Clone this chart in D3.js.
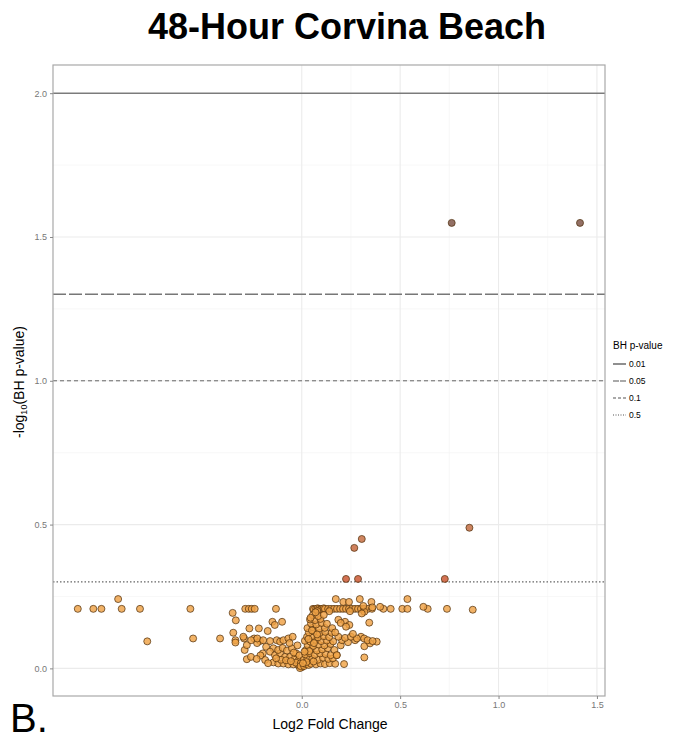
<!DOCTYPE html>
<html>
<head>
<meta charset="utf-8">
<script src="https://cdn.jsdelivr.net/npm/d3@7"></script>
<style>
  body { margin: 0; background: #fff; }
  svg { font-family: "Liberation Sans", Arial, sans-serif; }
</style>
</head>
<body>
<script>
// volcano points: [log2 fold change, -log10(BH p-value)]
const upperRow = [
  [-1.138,0.207],[-1.059,0.207],[-1.018,0.207],[-0.933,0.241],[-0.915,0.207],[-0.822,0.207],[-0.566,0.207],
  [-0.287,0.207],[-0.269,0.207],[-0.254,0.207],[-0.239,0.207],[-0.131,0.207],
  [0.057,0.207],[0.062,0.205],[0.073,0.207],[0.081,0.209],[0.088,0.207],[0.096,0.205],[0.103,0.207],
  [0.112,0.209],[0.118,0.207],[0.134,0.207],[0.149,0.207],[0.164,0.207],[0.179,0.207],[0.195,0.207],
  [0.210,0.207],[0.225,0.207],[0.240,0.207],[0.256,0.207],[0.271,0.207],[0.286,0.207],[0.301,0.207],
  [0.317,0.207],[0.337,0.207],[0.357,0.207],[0.415,0.207],[0.452,0.207],[0.511,0.207],[0.537,0.207],
  [0.640,0.207],[0.738,0.207],[0.869,0.204],
  [0.079,0.199],[0.140,0.199],[0.245,0.199],[0.318,0.197],[0.305,0.191],
  [0.173,0.241],[0.211,0.231],[0.240,0.231],[0.295,0.241],[0.354,0.231],[0.398,0.214],[0.537,0.241],
  [0.618,0.214],[0.313,0.217],[0.359,0.212]
];
const leftBranch = [
  [-0.785,0.094],[-0.552,0.104],[-0.415,0.104],
  [-0.351,0.193],[-0.335,0.167],[-0.348,0.124],[-0.337,0.098],[-0.337,0.090],[-0.293,0.104],[-0.297,0.110],
  [-0.290,0.064],[-0.279,0.032],[-0.258,0.040],[-0.266,0.139],[-0.218,0.139],[-0.173,0.130],[-0.149,0.162],
  [-0.137,0.151],[-0.100,0.162],[-0.279,0.081],[-0.242,0.104],[-0.212,0.095],[-0.198,0.052],[-0.181,0.075],
  [-0.161,0.095],[-0.144,0.070],[-0.127,0.098],[-0.110,0.093],[-0.093,0.098],[-0.068,0.104],[-0.046,0.110],
  [-0.161,0.058],[-0.136,0.046],[-0.110,0.052],[-0.085,0.040],[-0.059,0.040],[-0.034,0.035],[-0.144,0.021],
  [-0.119,0.017],[-0.093,0.017],[-0.068,0.014],[-0.043,0.014],[-0.017,0.011],[0.000,0.004],[-0.009,0.001],
  [-0.186,0.029],[-0.171,0.018],[-0.227,0.088],[-0.257,0.098],[-0.226,0.104],[-0.196,0.098],[-0.120,0.064],
  [-0.097,0.071],[-0.075,0.062],[-0.050,0.070],[-0.028,0.052],[-0.015,0.028],[-0.030,0.020],[-0.005,0.018],
  [-0.062,0.088],[-0.022,0.080],[-0.210,0.045],[-0.229,0.033],
  [-0.105,0.030],[-0.080,0.028],[-0.055,0.025],[-0.130,0.035],[-0.040,0.055],[-0.012,0.045],[-0.006,0.008]
];
const centerColumn = [
  [0.012,0.008],[0.022,0.015],[0.035,0.012],[0.048,0.016],[0.072,0.014],[0.095,0.017],[0.118,0.015],
  [0.142,0.018],[0.170,0.016],[0.010,0.030],[0.028,0.036],[0.054,0.034],[0.082,0.030],[0.108,0.037],
  [0.135,0.033],[0.158,0.035],[0.018,0.049],[0.041,0.053],[0.066,0.047],[0.093,0.052],[0.121,0.050],
  [0.147,0.046],[0.178,0.046],[0.021,0.064],[0.049,0.068],[0.077,0.062],[0.104,0.066],[0.132,0.070],
  [0.166,0.064],[0.030,0.081],[0.058,0.078],[0.086,0.083],[0.115,0.080],[0.146,0.085],[0.198,0.080],
  [0.016,0.096],[0.044,0.093],[0.071,0.099],[0.099,0.095],[0.127,0.097],[0.160,0.094],[0.205,0.098],
  [0.235,0.091],[0.271,0.098],[0.027,0.110],[0.055,0.113],[0.083,0.108],[0.112,0.112],[0.139,0.109],
  [0.186,0.110],[0.220,0.106],[0.036,0.125],[0.063,0.128],[0.091,0.123],[0.119,0.127],[0.152,0.124],
  [0.029,0.140],[0.058,0.143],[0.088,0.138],[0.117,0.141],[0.047,0.156],[0.074,0.153],[0.101,0.158],
  [0.128,0.155],[0.042,0.170],[0.068,0.168],[0.095,0.172],[0.056,0.185],[0.084,0.182],[0.112,0.186],
  [0.186,0.169],[0.220,0.162],[0.242,0.151],[0.343,0.159],[0.301,0.110],[0.317,0.104],[0.381,0.093],
  [0.318,0.077],[0.318,0.038],[0.215,0.015],[0.178,0.046],[0.347,0.087],[0.198,0.158],[0.225,0.145],
  [0.250,0.110],[0.280,0.104],[0.335,0.098],[0.360,0.095],[0.260,0.120],[0.155,0.140],[0.170,0.125],
  [0.038,0.060],[0.062,0.088],[0.034,0.102],[0.052,0.132],[0.078,0.118],[0.024,0.022],[0.060,0.024],
  [0.006,0.018],[0.014,0.058],[0.045,0.176],[0.070,0.195]
];
const significant = [
  [0.225,0.311],[0.286,0.311],[0.267,0.419],[0.305,0.450],[0.727,0.311],[0.852,0.489],
  [0.762,1.549],[1.414,1.549]
];

const thresholdP = [0.01, 0.05, 0.1, 0.5];
const thresholdLabels = ["0.01", "0.05", "0.1", "0.5"];
const thresholdDash = [null, "13,3", "4,3", "1.5,2"];
const xTicks = [0, 0.5, 1, 1.5];
const yTicks = [0, 0.5, 1, 1.5, 2];

const W = 678, H = 741;
const m = {l: 53, r: 605, t: 65, b: 696};

const svg = d3.select("body").append("svg").attr("width", W).attr("height", H);

const x = d3.scaleLinear().domain([-1.264, 1.541]).range([m.l, m.r]);
const y = d3.scaleLinear().domain([-0.096, 2.098]).range([m.b, m.t]);

const color = d3.scaleLinear()
  .domain([0, 0.25, 0.31, 0.45, 1.55])
  .range(["#f0a446", "#eea045", "#c9532d", "#c46a3d", "#7b5043"]);

// minor grid
svg.append("g").selectAll("line")
  .data([0.25, 0.75, 1.25])
  .enter().append("line")
  .attr("x1", d => x(d)).attr("x2", d => x(d))
  .attr("y1", m.t).attr("y2", m.b)
  .attr("stroke", "#f4f4f4").attr("stroke-width", 0.6);
svg.append("g").selectAll("line")
  .data([0.25, 0.75, 1.25, 1.75])
  .enter().append("line")
  .attr("y1", d => y(d)).attr("y2", d => y(d))
  .attr("x1", m.l).attr("x2", m.r)
  .attr("stroke", "#f4f4f4").attr("stroke-width", 0.6);

// major grid
svg.append("g").selectAll("line")
  .data(xTicks)
  .enter().append("line")
  .attr("x1", d => x(d)).attr("x2", d => x(d))
  .attr("y1", m.t).attr("y2", m.b)
  .attr("stroke", "#ebebeb").attr("stroke-width", 1.1);
svg.append("g").selectAll("line")
  .data(yTicks)
  .enter().append("line")
  .attr("y1", d => y(d)).attr("y2", d => y(d))
  .attr("x1", m.l).attr("x2", m.r)
  .attr("stroke", "#ebebeb").attr("stroke-width", 1.1);

// threshold lines
svg.append("g").selectAll("line")
  .data(thresholdP)
  .enter().append("line")
  .attr("x1", m.l).attr("x2", m.r)
  .attr("y1", d => y(-Math.log10(d))).attr("y2", d => y(-Math.log10(d)))
  .attr("stroke", (d, i) => i == 0 ? "#444" : (i == 1 ? "#777" : "#666"))
  .attr("stroke-width", (d, i) => i == 1 ? 1.6 : (i == 3 ? 1.2 : 1))
  .attr("stroke-dasharray", (d, i) => thresholdDash[i]);

// points
const points = upperRow.concat(leftBranch, centerColumn, significant);
svg.append("g").selectAll("circle")
  .data(points)
  .enter().append("circle")
  .attr("cx", d => x(d[0]))
  .attr("cy", d => y(d[1]))
  .attr("r", 3.5)
  .attr("fill", d => color(d[1]))
  .attr("fill-opacity", 0.82)
  .attr("stroke", "#4f300c")
  .attr("stroke-opacity", 0.8)
  .attr("stroke-width", 0.9);

// panel border
svg.append("rect")
  .attr("x", m.l).attr("y", m.t)
  .attr("width", m.r - m.l).attr("height", m.b - m.t)
  .attr("fill", "none").attr("stroke", "#a8a8a8").attr("stroke-width", 1.2);

// axes
const xAxis = d3.axisBottom(x).tickValues(xTicks).tickFormat(d3.format(".1f")).tickSize(3).tickPadding(3);
const yAxis = d3.axisLeft(y).tickValues(yTicks).tickFormat(d3.format(".1f")).tickSize(3).tickPadding(3);

const gx = svg.append("g").attr("transform", "translate(0," + m.b + ")").call(xAxis);
const gy = svg.append("g").attr("transform", "translate(" + m.l + ",0)").call(yAxis);
[gx, gy].forEach(g => {
  g.select(".domain").remove();
  g.selectAll(".tick line").attr("stroke", "#888");
  g.selectAll(".tick text").attr("fill", "#777").style("font-size", "9px")
    .style("font-family", "\"Liberation Sans\", Arial, sans-serif");
});

// title
svg.append("text")
  .attr("x", 347).attr("y", 39)
  .attr("text-anchor", "middle")
  .style("font-size", "36px").style("font-weight", "bold")
  .text("48-Hour Corvina Beach");

// axis labels
svg.append("text")
  .attr("x", 330).attr("y", 729)
  .attr("text-anchor", "middle")
  .style("font-size", "14px")
  .text("Log2 Fold Change");

const yl = svg.append("text")
  .attr("transform", "translate(24,382) rotate(-90)")
  .attr("text-anchor", "middle")
  .style("font-size", "14px");
yl.append("tspan").text("-log");
yl.append("tspan").attr("dy", 3).style("font-size", "9px").text("10");
yl.append("tspan").attr("dy", -3).text("(BH p-value)");

// panel letter
svg.append("text")
  .attr("x", 10).attr("y", 732)
  .style("font-size", "40px")
  .text("B.");

// legend
const lg = svg.append("g").attr("transform", "translate(613,0)");
lg.append("text").attr("x", 0).attr("y", 349)
  .style("font-size", "10px").text("BH p-value");
const items = lg.selectAll("g.item")
  .data(thresholdLabels)
  .enter().append("g").attr("class", "item")
  .attr("transform", (d, i) => "translate(0," + (364 + i * 17) + ")");
items.append("line")
  .attr("x1", 0).attr("x2", 13)
  .attr("stroke", (d, i) => i == 0 ? "#333" : "#555")
  .attr("stroke-width", 1.1)
  .attr("stroke-dasharray", (d, i) => i == 1 ? "6,1" : (i == 2 ? "3,2" : (i == 3 ? "1,1.5" : null)));
items.append("text")
  .attr("x", 16).attr("y", 3)
  .style("font-size", "8.5px")
  .text(d => d);
</script>
</body>
</html>
